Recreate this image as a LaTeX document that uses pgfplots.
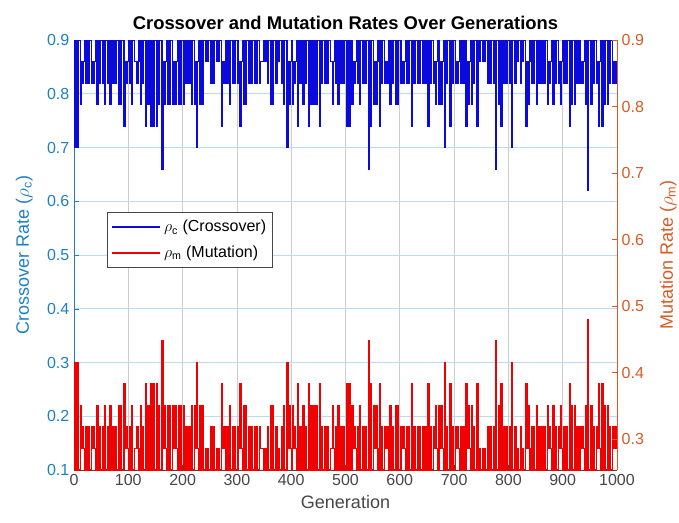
\documentclass[border=0pt]{standalone}
\usepackage{fontspec}
\setmainfont{Liberation Sans}
\usepackage{pgfplots}
\usepackage{pgfplotstable}
\pgfplotsset{compat=1.18}
\definecolor{lblue}{RGB}{30,128,195}
\definecolor{rorange}{RGB}{217,90,35}
\definecolor{gridblue}{RGB}{185,218,240}
\definecolor{gridgray}{RGB}{205,205,205}
\definecolor{axgray}{RGB}{70,70,70}
\definecolor{dblue}{RGB}{10,10,220}
\definecolor{dred}{RGB}{240,0,0}

\pgfplotstableread{
gen pm pc
0 0.10 0.90
2 0.30 0.70
4 0.10 0.90
6 0.30 0.70
8 0.10 0.90
10 0.10 0.90
12 0.22 0.78
14 0.14 0.86
16 0.18 0.82
18 0.14 0.86
20 0.10 0.90
22 0.18 0.82
24 0.10 0.90
26 0.18 0.82
28 0.10 0.90
30 0.10 0.90
32 0.18 0.82
34 0.14 0.86
36 0.18 0.82
38 0.14 0.86
40 0.10 0.90
42 0.22 0.78
44 0.10 0.90
46 0.18 0.82
48 0.10 0.90
50 0.10 0.90
52 0.18 0.82
54 0.10 0.90
56 0.22 0.78
58 0.10 0.90
60 0.10 0.90
62 0.18 0.82
64 0.10 0.90
66 0.22 0.78
68 0.10 0.90
70 0.10 0.90
72 0.18 0.82
74 0.10 0.90
76 0.18 0.82
78 0.10 0.90
80 0.10 0.90
82 0.22 0.78
84 0.10 0.90
86 0.22 0.78
88 0.10 0.90
90 0.10 0.90
92 0.26 0.74
94 0.14 0.86
96 0.18 0.82
98 0.14 0.86
100 0.10 0.90
102 0.18 0.82
104 0.10 0.90
106 0.22 0.78
108 0.10 0.90
110 0.10 0.90
112 0.14 0.86
114 0.14 0.86
116 0.18 0.82
118 0.14 0.86
120 0.10 0.90
122 0.22 0.78
124 0.10 0.90
126 0.18 0.82
128 0.10 0.90
130 0.10 0.90
132 0.26 0.74
134 0.10 0.90
136 0.22 0.78
138 0.10 0.90
140 0.10 0.90
142 0.26 0.74
144 0.10 0.90
146 0.26 0.74
148 0.10 0.90
150 0.10 0.90
152 0.26 0.74
154 0.10 0.90
156 0.22 0.78
158 0.10 0.90
160 0.10 0.90
162 0.34 0.66
164 0.14 0.86
166 0.22 0.78
168 0.14 0.86
170 0.10 0.90
172 0.22 0.78
174 0.10 0.90
176 0.22 0.78
178 0.10 0.90
180 0.10 0.90
182 0.22 0.78
184 0.14 0.86
186 0.22 0.78
188 0.14 0.86
190 0.10 0.90
192 0.22 0.78
194 0.10 0.90
196 0.22 0.78
198 0.10 0.90
200 0.10 0.90
202 0.22 0.78
204 0.10 0.90
206 0.18 0.82
208 0.10 0.90
210 0.10 0.90
212 0.18 0.82
214 0.10 0.90
216 0.22 0.78
218 0.10 0.90
220 0.10 0.90
222 0.22 0.78
224 0.14 0.86
226 0.30 0.70
228 0.14 0.86
230 0.10 0.90
232 0.22 0.78
234 0.10 0.90
236 0.22 0.78
238 0.10 0.90
240 0.10 0.90
242 0.14 0.86
244 0.10 0.90
246 0.14 0.86
248 0.10 0.90
250 0.10 0.90
252 0.18 0.82
254 0.10 0.90
256 0.18 0.82
258 0.10 0.90
260 0.10 0.90
262 0.14 0.86
264 0.10 0.90
266 0.14 0.86
268 0.10 0.90
270 0.10 0.90
272 0.26 0.74
274 0.14 0.86
276 0.18 0.82
278 0.14 0.86
280 0.10 0.90
282 0.18 0.82
284 0.10 0.90
286 0.22 0.78
288 0.10 0.90
290 0.10 0.90
292 0.18 0.82
294 0.10 0.90
296 0.18 0.82
298 0.10 0.90
300 0.10 0.90
302 0.18 0.82
304 0.14 0.86
306 0.26 0.74
308 0.14 0.86
310 0.10 0.90
312 0.22 0.78
314 0.10 0.90
316 0.22 0.78
318 0.10 0.90
320 0.10 0.90
322 0.18 0.82
324 0.10 0.90
326 0.18 0.82
328 0.10 0.90
330 0.10 0.90
332 0.18 0.82
334 0.10 0.90
336 0.18 0.82
338 0.10 0.90
340 0.10 0.90
342 0.18 0.82
344 0.14 0.86
346 0.14 0.86
348 0.14 0.86
350 0.10 0.90
352 0.14 0.86
354 0.10 0.90
356 0.18 0.82
358 0.10 0.90
360 0.10 0.90
362 0.22 0.78
364 0.10 0.90
366 0.22 0.78
368 0.10 0.90
370 0.10 0.90
372 0.18 0.82
374 0.10 0.90
376 0.14 0.86
378 0.10 0.90
380 0.10 0.90
382 0.18 0.82
384 0.10 0.90
386 0.22 0.78
388 0.10 0.90
390 0.10 0.90
392 0.30 0.70
394 0.14 0.86
396 0.22 0.78
398 0.14 0.86
400 0.10 0.90
402 0.22 0.78
404 0.14 0.86
406 0.18 0.82
408 0.14 0.86
410 0.10 0.90
412 0.26 0.74
414 0.10 0.90
416 0.18 0.82
418 0.10 0.90
420 0.10 0.90
422 0.22 0.78
424 0.10 0.90
426 0.18 0.82
428 0.10 0.90
430 0.10 0.90
432 0.26 0.74
434 0.10 0.90
436 0.22 0.78
438 0.10 0.90
440 0.10 0.90
442 0.22 0.78
444 0.10 0.90
446 0.22 0.78
448 0.10 0.90
450 0.10 0.90
452 0.26 0.74
454 0.10 0.90
456 0.18 0.82
458 0.10 0.90
460 0.10 0.90
462 0.18 0.82
464 0.10 0.90
466 0.18 0.82
468 0.10 0.90
470 0.10 0.90
472 0.14 0.86
474 0.14 0.86
476 0.22 0.78
478 0.14 0.86
480 0.10 0.90
482 0.18 0.82
484 0.10 0.90
486 0.22 0.78
488 0.10 0.90
490 0.10 0.90
492 0.18 0.82
494 0.10 0.90
496 0.18 0.82
498 0.10 0.90
500 0.10 0.90
502 0.26 0.74
504 0.10 0.90
506 0.26 0.74
508 0.10 0.90
510 0.10 0.90
512 0.22 0.78
514 0.14 0.86
516 0.18 0.82
518 0.14 0.86
520 0.10 0.90
522 0.18 0.82
524 0.10 0.90
526 0.22 0.78
528 0.10 0.90
530 0.10 0.90
532 0.18 0.82
534 0.10 0.90
536 0.18 0.82
538 0.10 0.90
540 0.10 0.90
542 0.34 0.66
544 0.10 0.90
546 0.26 0.74
548 0.10 0.90
550 0.10 0.90
552 0.22 0.78
554 0.14 0.86
556 0.22 0.78
558 0.14 0.86
560 0.10 0.90
562 0.26 0.74
564 0.10 0.90
566 0.18 0.82
568 0.10 0.90
570 0.10 0.90
572 0.18 0.82
574 0.14 0.86
576 0.18 0.82
578 0.14 0.86
580 0.10 0.90
582 0.22 0.78
584 0.10 0.90
586 0.18 0.82
588 0.10 0.90
590 0.10 0.90
592 0.22 0.78
594 0.10 0.90
596 0.22 0.78
598 0.10 0.90
600 0.10 0.90
602 0.18 0.82
604 0.14 0.86
606 0.18 0.82
608 0.14 0.86
610 0.10 0.90
612 0.18 0.82
614 0.10 0.90
616 0.18 0.82
618 0.10 0.90
620 0.10 0.90
622 0.26 0.74
624 0.10 0.90
626 0.18 0.82
628 0.10 0.90
630 0.10 0.90
632 0.18 0.82
634 0.10 0.90
636 0.18 0.82
638 0.10 0.90
640 0.10 0.90
642 0.18 0.82
644 0.10 0.90
646 0.18 0.82
648 0.10 0.90
650 0.10 0.90
652 0.26 0.74
654 0.10 0.90
656 0.18 0.82
658 0.10 0.90
660 0.10 0.90
662 0.18 0.82
664 0.14 0.86
666 0.22 0.78
668 0.14 0.86
670 0.10 0.90
672 0.22 0.78
674 0.14 0.86
676 0.22 0.78
678 0.14 0.86
680 0.10 0.90
682 0.30 0.70
684 0.10 0.90
686 0.18 0.82
688 0.10 0.90
690 0.10 0.90
692 0.26 0.74
694 0.10 0.90
696 0.18 0.82
698 0.10 0.90
700 0.10 0.90
702 0.18 0.82
704 0.14 0.86
706 0.18 0.82
708 0.14 0.86
710 0.10 0.90
712 0.18 0.82
714 0.10 0.90
716 0.18 0.82
718 0.10 0.90
720 0.10 0.90
722 0.26 0.74
724 0.14 0.86
726 0.22 0.78
728 0.14 0.86
730 0.10 0.90
732 0.22 0.78
734 0.10 0.90
736 0.18 0.82
738 0.10 0.90
740 0.10 0.90
742 0.26 0.74
744 0.10 0.90
746 0.14 0.86
748 0.10 0.90
750 0.10 0.90
752 0.14 0.86
754 0.10 0.90
756 0.14 0.86
758 0.10 0.90
760 0.10 0.90
762 0.18 0.82
764 0.10 0.90
766 0.18 0.82
768 0.10 0.90
770 0.10 0.90
772 0.18 0.82
774 0.10 0.90
776 0.34 0.66
778 0.10 0.90
780 0.10 0.90
782 0.22 0.78
784 0.10 0.90
786 0.26 0.74
788 0.10 0.90
790 0.10 0.90
792 0.18 0.82
794 0.10 0.90
796 0.18 0.82
798 0.10 0.90
800 0.10 0.90
802 0.18 0.82
804 0.10 0.90
806 0.30 0.70
808 0.10 0.90
810 0.10 0.90
812 0.18 0.82
814 0.10 0.90
816 0.14 0.86
818 0.10 0.90
820 0.10 0.90
822 0.18 0.82
824 0.10 0.90
826 0.14 0.86
828 0.10 0.90
830 0.10 0.90
832 0.26 0.74
834 0.14 0.86
836 0.22 0.78
838 0.14 0.86
840 0.10 0.90
842 0.18 0.82
844 0.10 0.90
846 0.18 0.82
848 0.10 0.90
850 0.10 0.90
852 0.22 0.78
854 0.10 0.90
856 0.18 0.82
858 0.10 0.90
860 0.10 0.90
862 0.18 0.82
864 0.10 0.90
866 0.18 0.82
868 0.10 0.90
870 0.10 0.90
872 0.22 0.78
874 0.14 0.86
876 0.18 0.82
878 0.14 0.86
880 0.10 0.90
882 0.22 0.78
884 0.10 0.90
886 0.18 0.82
888 0.10 0.90
890 0.10 0.90
892 0.18 0.82
894 0.14 0.86
896 0.22 0.78
898 0.14 0.86
900 0.10 0.90
902 0.18 0.82
904 0.10 0.90
906 0.18 0.82
908 0.10 0.90
910 0.10 0.90
912 0.26 0.74
914 0.10 0.90
916 0.22 0.78
918 0.10 0.90
920 0.10 0.90
922 0.22 0.78
924 0.10 0.90
926 0.18 0.82
928 0.10 0.90
930 0.10 0.90
932 0.18 0.82
934 0.14 0.86
936 0.18 0.82
938 0.14 0.86
940 0.10 0.90
942 0.22 0.78
944 0.10 0.90
946 0.38 0.62
948 0.10 0.90
950 0.10 0.90
952 0.22 0.78
954 0.10 0.90
956 0.18 0.82
958 0.10 0.90
960 0.10 0.90
962 0.18 0.82
964 0.14 0.86
966 0.26 0.74
968 0.14 0.86
970 0.10 0.90
972 0.26 0.74
974 0.10 0.90
976 0.22 0.78
978 0.10 0.90
980 0.10 0.90
982 0.22 0.78
984 0.10 0.90
986 0.18 0.82
988 0.10 0.90
990 0.10 0.90
992 0.18 0.82
994 0.14 0.86
996 0.18 0.82
998 0.14 0.86
1000 0.18 0.82
}\rates

\begin{document}
\begin{tikzpicture}
\begin{axis}[
  at={(0pt,0pt)}, anchor=south west,
  scale only axis, width=407.25pt, height=322.5pt,
  xmin=0, xmax=1000, ymin=0.1, ymax=0.9,
  xtick={0,100,200,300,400,500,600,700,800,900,1000},
  ytick={0.1,0.2,0.3,0.4,0.5,0.6,0.7,0.8,0.9},
  axis x line*=bottom, axis y line*=left,
  tick align=inside, major tick length=4pt,
  /pgf/number format/assume math mode=true,
  /pgf/number format/1000 sep={},
  yticklabel style={/pgf/number format/fixed, /pgf/number format/fixed zerofill, /pgf/number format/precision=1, color=lblue},
  xticklabel style={color=axgray},
  tick label style={font=\fontsize{12}{14}\selectfont},
  x axis line style={color=axgray, line width=0.5pt},
  y axis line style={color=lblue, line width=0.5pt},
  x tick style={color=axgray},
  y tick style={color=lblue},
  grid=major,
  x grid style={color=gridgray, line width=0.5pt},
  y grid style={color=gridblue, line width=0.5pt},
  xlabel={Generation},
  xlabel style={font=\fontsize{13.5}{16}\selectfont, color=axgray},
  ylabel={Crossover Rate ($\rho$\textsubscript{c})},
  ylabel style={font=\fontsize{13.5}{16}\selectfont, color=lblue, yshift=4pt},
  title={Crossover and Mutation Rates Over Generations},
  title style={font=\fontsize{13.8}{16}\selectfont\bfseries, color=black, yshift=-2pt},
  legend style={at={(0.061,0.6)}, anchor=north west,
    font=\fontsize{12}{14}\selectfont, draw=axgray, fill=white,
    line width=0.6pt, inner xsep=3pt, inner ysep=4pt, row sep=5pt},
  legend cell align=left,
  legend image code/.code={\draw[#1, line width=1.4pt] (0pt,0pt) -- (36pt,0pt);},
]
\addplot[color=dblue, line width=1.0pt, const plot] table[x=gen, y=pc] {\rates};
\addlegendentry{$\rho$\textsubscript{c} (Crossover)}
\addplot[color=dred, line width=1.0pt, const plot] table[x=gen, y=pm] {\rates};
\addlegendentry{$\rho$\textsubscript{m} (Mutation)}
\end{axis}
\begin{axis}[
  at={(0pt,0pt)}, anchor=south west,
  scale only axis, width=407.25pt, height=322.5pt,
  xmin=0, xmax=1000, ymin=0.2534, ymax=0.9,
  axis x line=none, axis y line*=right,
  ytick={0.3,0.4,0.5,0.6,0.7,0.8,0.9},
  tick align=inside, major tick length=4pt,
  /pgf/number format/assume math mode=true,
  yticklabel style={/pgf/number format/fixed, /pgf/number format/fixed zerofill, /pgf/number format/precision=1, color=rorange},
  tick label style={font=\fontsize{12}{14}\selectfont},
  y axis line style={color=rorange, line width=0.5pt},
  y tick style={color=rorange},
  ylabel={Mutation Rate ($\rho$\textsubscript{m})},
  ylabel style={font=\fontsize{13.5}{16}\selectfont, color=rorange, yshift=-5pt},
]
\end{axis}
\pgfresetboundingbox
\path[use as bounding box] (-55.5pt,-39pt) rectangle (453.75pt,352.5pt);
\end{tikzpicture}
\end{document}
